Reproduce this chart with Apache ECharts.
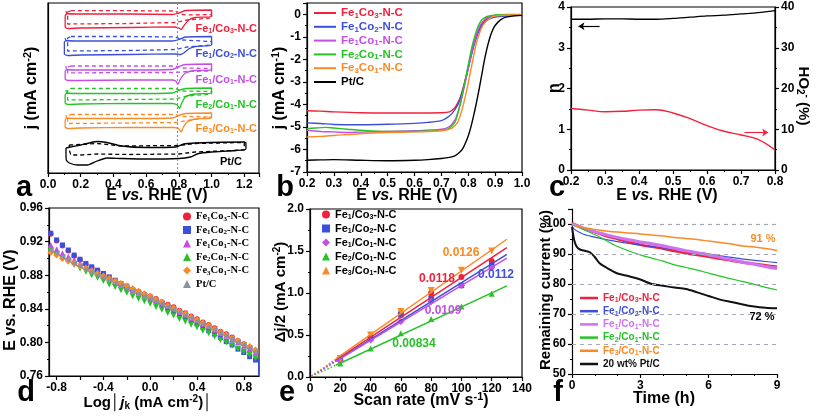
<!DOCTYPE html>
<html><head><meta charset="utf-8">
<script src="https://cdn.jsdelivr.net/npm/echarts@6/dist/echarts.min.js"></script>
<style>html,body{margin:0;padding:0;background:#fff}#c{width:817px;height:416px}</style>
</head><body><div id="c"></div>
<script>
// ---------------- DATA ----------------
// Panel a: CV loops (E in V, offset current in a.u.)
const aNames = ['Fe1/Co3-N-C','Fe1/Co2-N-C','Fe1/Co1-N-C','Fe2/Co1-N-C','Fe3/Co1-N-C','Pt/C'];
const aRefPotential = 0.79;
const aRedSolid = [[0.11,162],[0.115,159.5],[0.2,159],[0.5,159],[0.76,158.5],[0.8,160],[0.84,162.5],[1.0,163],[1.0,156.5],[0.9,155.5],[0.86,153],[0.83,147],[0.815,143.5],[0.8,145],[0.77,146],[0.5,145.5],[0.2,145],[0.12,144.5],[0.105,146],[0.105,157],[0.115,159.5]];
const aRedDash = [[0.14,162.3],[0.5,162.3],[0.78,162],[0.8,159],[0.85,158],[1.0,158.5],[1.0,155],[0.85,153],[0.78,150.5],[0.5,149.5],[0.12,149],[0.12,161],[0.14,162.3]];
const aBlueSolid = [[0.105,135],[0.11,132.5],[0.2,132],[0.5,132],[0.76,132],[0.8,133.5],[0.84,136],[1.0,136.5],[1.0,128],[0.9,126.5],[0.86,124],[0.83,120],[0.81,118.5],[0.78,119],[0.5,118.5],[0.2,118],[0.12,117.5],[0.1,119],[0.1,131],[0.11,132.5]];
const aBlueDash = [[0.14,136.5],[0.5,136.5],[0.78,136],[0.82,133],[1.0,131.5],[1.0,128],[0.85,126],[0.78,123.5],[0.5,122.5],[0.12,122],[0.12,135],[0.14,136.5]];
const aMagSolid = [[0.11,107],[0.115,103.5],[0.2,103],[0.5,103],[0.76,103.5],[0.8,106.5],[0.84,108.5],[1.0,109],[1.0,103],[0.9,102.5],[0.84,100],[0.81,94],[0.795,89],[0.78,92],[0.76,93],[0.5,93],[0.2,92.5],[0.12,92.5],[0.105,94],[0.105,102],[0.115,103.5]];
const aMagDash = [[0.14,107],[0.5,107],[0.78,107],[0.82,105],[1.0,104.5],[1.0,102],[0.85,101.5],[0.78,100.5],[0.5,100.5],[0.12,100],[0.12,106],[0.14,107]];
const aGreenSolid = [[0.11,83],[0.115,80],[0.2,79.5],[0.5,79.5],[0.76,80],[0.8,82.5],[0.84,84.5],[1.0,85],[1.0,80],[0.9,79],[0.84,76],[0.815,69],[0.805,64.5],[0.79,68],[0.76,69.5],[0.5,69.5],[0.2,69],[0.12,68.5],[0.105,70],[0.105,78],[0.115,80]];
const aGreenDash = [[0.14,84.5],[0.5,84.5],[0.78,84.5],[0.82,82],[1.0,81.5],[1.0,79],[0.85,77],[0.78,74],[0.5,73.5],[0.12,73],[0.12,83],[0.14,84.5]];
const aOrangeSolid = [[0.11,58],[0.115,55],[0.2,54.5],[0.5,54.5],[0.76,55],[0.8,57.5],[0.84,59.5],[1.0,60],[1.0,55],[0.9,54],[0.85,51],[0.825,45],[0.815,41],[0.8,44],[0.77,45.5],[0.5,45.5],[0.2,45],[0.12,44.5],[0.105,46],[0.105,53],[0.115,55]];
const aOrangeDash = [[0.14,58.5],[0.5,58.5],[0.78,58.5],[0.82,56.5],[1.0,56],[1.0,54],[0.85,52.5],[0.78,50.5],[0.5,50],[0.12,49.5],[0.12,57],[0.14,58.5]];
const aPtSolid = [[0.11,25],[0.2,28],[0.3,31.5],[0.36,30.5],[0.45,27],[0.6,25.5],[0.78,26],[0.83,29],[0.9,30],[1.2,31],[1.21,30],[1.21,24],[1.15,22.5],[1.0,21],[0.92,19.5],[0.87,16],[0.8,14.5],[0.6,14],[0.45,14.5],[0.36,15],[0.3,12],[0.24,8],[0.18,8],[0.13,10],[0.112,13],[0.11,21],[0.11,25]];
const aPtDash = [[0.13,28],[0.3,29.5],[0.45,27],[0.8,27.5],[0.9,29.5],[1.2,30.5],[1.2,23],[0.9,21],[0.8,19],[0.5,18.5],[0.3,19],[0.2,18],[0.14,18],[0.13,23],[0.13,28]];

// Panel b: LSV (E in V, j in mA cm-2)
const bNames = ['Fe1Co3-N-C','Fe1Co2-N-C','Fe1Co1-N-C','Fe2Co1-N-C','Fe3Co1-N-C','Pt/C'];
const bRed = [[0.2,-4.28],[0.25,-4.3],[0.3,-4.33],[0.4,-4.37],[0.5,-4.38],[0.6,-4.38],[0.7,-4.37],[0.73,-4.33],[0.75,-4.15],[0.76,-3.95],[0.77,-3.7],[0.78,-3.3],[0.79,-2.85],[0.8,-2.35],[0.81,-1.85],[0.82,-1.35],[0.83,-0.95],[0.84,-0.65],[0.85,-0.45],[0.86,-0.3],[0.88,-0.15],[0.9,-0.08],[0.93,-0.05],[1.0,-0.04]];
const bBlue = [[0.2,-4.82],[0.25,-4.85],[0.3,-4.89],[0.4,-4.9],[0.5,-4.88],[0.6,-4.84],[0.65,-4.8],[0.7,-4.72],[0.72,-4.6],[0.74,-4.4],[0.76,-4.05],[0.77,-3.75],[0.78,-3.35],[0.79,-2.9],[0.8,-2.4],[0.81,-1.9],[0.82,-1.45],[0.83,-1.05],[0.84,-0.75],[0.85,-0.5],[0.87,-0.25],[0.9,-0.12],[0.95,-0.07],[1.0,-0.05]];
const bMag = [[0.2,-5.15],[0.25,-5.2],[0.3,-5.22],[0.35,-5.25],[0.4,-5.23],[0.5,-5.2],[0.6,-5.17],[0.7,-5.1],[0.73,-4.98],[0.75,-4.7],[0.76,-4.4],[0.77,-4.0],[0.78,-3.5],[0.79,-2.95],[0.8,-2.4],[0.81,-1.85],[0.82,-1.35],[0.83,-0.95],[0.84,-0.6],[0.85,-0.38],[0.87,-0.15],[0.9,-0.05],[0.95,-0.02],[1.0,-0.02]];
const bGreen = [[0.2,-5.08],[0.23,-5.05],[0.27,-5.02],[0.3,-5.05],[0.35,-5.1],[0.4,-5.15],[0.5,-5.2],[0.6,-5.2],[0.7,-5.15],[0.73,-5.05],[0.75,-4.8],[0.76,-4.45],[0.77,-4.0],[0.78,-3.45],[0.79,-2.85],[0.8,-2.25],[0.81,-1.65],[0.82,-1.15],[0.83,-0.75],[0.84,-0.45],[0.85,-0.25],[0.87,-0.1],[0.9,-0.03],[0.95,-0.01],[1.0,-0.01]];
const bOrange = [[0.2,-5.44],[0.25,-5.42],[0.3,-5.38],[0.4,-5.3],[0.5,-5.25],[0.6,-5.22],[0.7,-5.17],[0.74,-5.05],[0.76,-4.8],[0.77,-4.5],[0.78,-4.1],[0.79,-3.6],[0.8,-3.05],[0.81,-2.45],[0.82,-1.85],[0.83,-1.3],[0.84,-0.9],[0.85,-0.6],[0.86,-0.4],[0.88,-0.18],[0.9,-0.08],[0.95,-0.03],[1.0,-0.02]];
const bPt = [[0.2,-6.48],[0.25,-6.46],[0.3,-6.45],[0.4,-6.48],[0.5,-6.5],[0.6,-6.48],[0.65,-6.45],[0.7,-6.4],[0.73,-6.35],[0.75,-6.28],[0.77,-6.1],[0.78,-5.95],[0.79,-5.7],[0.8,-5.4],[0.81,-5.0],[0.82,-4.5],[0.83,-3.95],[0.84,-3.35],[0.85,-2.7],[0.86,-2.05],[0.87,-1.5],[0.88,-1.05],[0.89,-0.72],[0.9,-0.5],[0.92,-0.25],[0.94,-0.13],[0.97,-0.07],[1.0,-0.05]];

// Panel c: electron transfer number and HO2- yield
const cN = [[0.2,3.70],[0.25,3.70],[0.3,3.71],[0.35,3.71],[0.4,3.70],[0.45,3.70],[0.5,3.72],[0.55,3.75],[0.6,3.78],[0.65,3.80],[0.7,3.83],[0.75,3.86],[0.8,3.91]];
const cHO2 = [[0.2,15.1],[0.25,14.7],[0.3,14.3],[0.35,14.4],[0.4,14.7],[0.45,14.8],[0.5,14.0],[0.55,12.6],[0.6,10.9],[0.65,9.5],[0.7,8.6],[0.75,7.5],[0.8,4.9]];
const cArrowN = [[0.284,3.53],[0.222,3.53]];
const cArrowHO2 = [[0.71,9.2],[0.78,9.2]];

// Panel d: Tafel plots (log|jk|, E)
const dNames = ['Fe1Co3-N-C','Fe1Co2-N-C','Fe1Co1-N-C','Fe2Co1-N-C','Fe3Co1-N-C','Pt/C'];
const dLogJ = [-0.85,-0.80,-0.75,-0.70,-0.65,-0.60,-0.55,-0.50,-0.45,-0.40,-0.35,-0.30,-0.25,-0.20,-0.15,-0.10,-0.05,0.00,0.05,0.10,0.15,0.20,0.25,0.30,0.35,0.40,0.45,0.50,0.55,0.60,0.65,0.70,0.75,0.80,0.85,0.90];
const dRed = [0.929,0.921,0.915,0.909,0.903,0.898,0.893,0.889,0.885,0.881,0.877,0.873,0.869,0.866,0.863,0.860,0.857,0.855,0.852,0.848,0.845,0.842,0.838,0.835,0.831,0.828,0.824,0.821,0.817,0.813,0.810,0.806,0.802,0.798,0.794,0.790];
const dBlue = [0.930,0.922,0.916,0.910,0.904,0.899,0.894,0.890,0.886,0.882,0.878,0.874,0.870,0.867,0.863,0.860,0.857,0.853,0.849,0.845,0.841,0.837,0.833,0.830,0.826,0.822,0.818,0.814,0.810,0.806,0.801,0.797,0.792,0.788,0.783,0.779];
const dMag = [0.916,0.911,0.906,0.902,0.898,0.894,0.890,0.887,0.883,0.879,0.876,0.872,0.869,0.866,0.862,0.859,0.856,0.853,0.850,0.846,0.843,0.840,0.836,0.833,0.829,0.826,0.822,0.819,0.815,0.811,0.808,0.804,0.800,0.796,0.792,0.788];
const dGreen = [0.909,0.904,0.900,0.896,0.892,0.888,0.884,0.880,0.877,0.873,0.869,0.866,0.862,0.859,0.855,0.852,0.849,0.846,0.842,0.839,0.835,0.832,0.828,0.825,0.821,0.818,0.814,0.811,0.807,0.803,0.800,0.796,0.792,0.789,0.785,0.781];
const dOrange = [0.907,0.904,0.900,0.897,0.894,0.891,0.888,0.885,0.882,0.879,0.876,0.873,0.870,0.867,0.864,0.861,0.858,0.855,0.851,0.848,0.844,0.841,0.837,0.834,0.830,0.827,0.823,0.820,0.816,0.812,0.809,0.805,0.802,0.798,0.795,0.791];
const dPt = [0.910,0.906,0.902,0.898,0.894,0.891,0.887,0.884,0.880,0.877,0.874,0.870,0.867,0.864,0.861,0.858,0.855,0.852,0.849,0.846,0.842,0.839,0.836,0.832,0.829,0.825,0.822,0.818,0.815,0.811,0.808,0.804,0.800,0.797,0.793,0.789];
const dBlueTail = [[0.928,0.779],[0.928,0.76]];
const dXTicks = [-0.8,-0.6,-0.4,-0.2,0,0.2,0.4,0.6,0.8];
const dXLabels = [-0.8,-0.4,0,0.4,0.8];

// Panel e: double-layer capacitance
const eNames = ['Fe1/Co3-N-C','Fe1/Co2-N-C','Fe1/Co1-N-C','Fe2/Co1-N-C','Fe3/Co1-N-C'];
const eScanRates = [20,40,60,80,100,120];
const eRed = [0.20,0.47,0.76,1.00,1.19,1.38];
const eBlue = [0.21,0.46,0.74,0.94,1.09,1.33];
const eMag = [0.19,0.44,0.66,0.90,1.09,1.30];
const eGreen = [0.16,0.34,0.52,0.69,0.84,0.99];
const eOrange = [0.22,0.50,0.78,1.03,1.27,1.50];
const eFitRed = [[1,0.01],[17,0.20],[130,1.54]];
const eFitBlue = [[1,0.01],[17,0.19],[130,1.46]];
const eFitMag = [[1,0.01],[17,0.185],[130,1.415]];
const eFitGreen = [[1,0.01],[17,0.14],[130,1.085]];
const eFitOrange = [[1,0.01],[17,0.215],[130,1.64]];
const eSlopes = ['0.0118','0.0112','0.0109','0.00834','0.0126'];

// Panel f: chronoamperometric stability
const fNames = ['Fe1/Co3-N-C','Fe1/Co2-N-C','Fe1/Co1-N-C','Fe2/Co1-N-C','Fe3/Co1-N-C','20 wt% Pt/C'];
const fRed = [[0,100.3],[0.2,99.6],[0.5,98.6],[1,97.3],[1.5,96.0],[2,95.0],[2.5,94.0],[3,93.1],[3.5,92.4],[4,91.8],[4.5,91.0],[5,90.3],[5.5,89.7],[6,89.1],[6.5,88.4],[7,87.8],[7.5,87.2],[8,86.7],[8.5,86.2],[9,85.7]];
const fBlue = [[0,99.2],[0.1,98.3],[0.3,97.3],[0.5,96.6],[1,95.6],[1.5,94.8],[2,94.1],[2.5,93.5],[3,93.0],[3.5,92.5],[4,92.0],[4.5,91.5],[5,91.0],[5.5,90.5],[6,90.0],[6.5,89.4],[7,88.9],[7.5,88.3],[8,87.9],[8.5,87.5],[9,87.1]];
const fMag = [[0,100.0],[0.3,99.2],[0.5,98.5],[1,97.4],[1.5,96.4],[2,95.5],[2.5,94.7],[3,94.0],[3.5,93.4],[4,92.7],[4.5,91.9],[5,91.1],[5.5,90.4],[6,89.7],[6.5,88.9],[7,88.1],[7.5,87.3],[8,86.6],[8.5,85.8],[9,85.2]];
const fGreen = [[0,99.8],[0.3,99.0],[0.5,98.2],[1,96.5],[1.5,94.5],[2,92.5],[2.5,91.0],[3,89.7],[3.5,88.6],[4,87.6],[4.5,86.4],[5,85.5],[5.5,84.6],[6,83.6],[6.5,82.6],[7,81.7],[7.5,80.8],[8,79.9],[8.5,78.9],[9,78.0]];
const fOrange = [[0,100.2],[0.1,99.6],[0.5,98.8],[1,98.2],[1.5,97.7],[2,97.3],[2.5,97.0],[3,96.7],[3.5,96.3],[4,96.0],[4.5,95.5],[5,95.2],[5.5,94.8],[6,94.3],[6.5,93.8],[7,93.3],[7.5,92.7],[8,92.3],[8.5,91.8],[9,91.2]];
const fPt = [[0,99.0],[0.05,96.5],[0.1,94.5],[0.2,92.5],[0.35,91.5],[0.6,91.0],[0.8,90.5],[1,89.0],[1.2,87.0],[1.5,85.5],[2,83.5],[2.5,82.6],[3,81.5],[3.5,80.0],[4,79.4],[4.5,78.8],[5,78.3],[5.5,77.2],[6,76.0],[6.5,74.8],[7,74.0],[7.5,73.2],[8,72.5],[8.5,72.1],[9,71.9]];
const fGuides = [60,70,80,90,100];
const fAnnot = ['91 %','72 %'];

// ---------------- STYLE / LAYOUT ----------------
const SANS = 'Liberation Sans', SERIF = 'Liberation Serif';
const PAL = ['#f0213c','#3c4fdc','#c44ee6','#27c227','#fa8a25','#000000'];
const GRAY = '#8b90a3';

function rich(size, family) {
  const b = {fontFamily: family, fontWeight: 'bold', fontSize: size};
  const sm = Math.round(size * 0.68);
  return {
    s: Object.assign({}, b, {fontSize: sm, padding: [Math.round(size*0.45),0,0,0]}),
    p: Object.assign({}, b, {fontSize: sm, padding: [0,0,Math.round(size*0.5),0]}),
    i: Object.assign({}, b, {fontStyle: 'italic'})
  };
}
function subify(t) { return t.replace(/(Fe|Co)(\d)/g, '$1{s|$2}'); }

function axis(gi, min, max, interval, o) {
  const base = {
    type: 'value', gridIndex: gi, min: min, max: max, interval: interval,
    axisLine: {show: true, onZero: false, lineStyle: {color: '#000', width: 1.2}},
    axisTick: {show: true, inside: false, length: 4, lineStyle: {color: '#000', width: 1.2}},
    minorTick: {show: true, splitNumber: 2, length: 2, lineStyle: {color: '#000', width: 1}},
    axisLabel: {show: true, fontFamily: SANS, fontWeight: 'bold', fontSize: 12, color: '#000', margin: 6, showMaxLabel: false},
    splitLine: {show: false}, minorSplitLine: {show: false}
  };
  if (o) for (const k in o) base[k] = (typeof o[k] === 'object' && !Array.isArray(o[k]) && base[k]) ? Object.assign({}, base[k], o[k]) : o[k];
  return base;
}
const f1 = v => v.toFixed(1), f2 = v => v.toFixed(2), f0 = v => String(Math.round(v));

const grids = [
  {left: 48, top: 3, width: 211, height: 170},
  {left: 307, top: 3, width: 215, height: 169},
  {left: 571, top: 7, width: 204, height: 163},
  {left: 49, top: 208, width: 210, height: 168},
  {left: 310, top: 209, width: 212, height: 168},
  {left: 572, top: 209, width: 205, height: 165}
].map((g, i) => Object.assign({show: i !== 5, borderColor: '#000', borderWidth: 1.2, backgroundColor: 'transparent', containLabel: false, outerBoundsMode: 'none'}, g));

const xAxes = [
  axis(0, 0, 1.29, 0.2, {axisLabel: {formatter: f1}}),
  axis(1, 0.2, 1.0, 0.1, {axisLabel: {formatter: f1, showMaxLabel: true}}),
  axis(2, 0.2, 0.8, 0.1, {axisLabel: {formatter: f1, showMaxLabel: true}}),
  axis(3, -0.865, 0.93, null, {minorTick: {show: false}, axisTick: {customValues: dXTicks}, axisLabel: {formatter: f1, customValues: dXLabels, showMaxLabel: true}}),
  axis(4, 0, 140, 20, {axisLabel: {formatter: f0, showMaxLabel: true}}),
  axis(5, 0, 9, 3, {minorTick: {show: true, splitNumber: 3}, axisLabel: {formatter: f0, showMaxLabel: true}})
];
const yAxes = [
  axis(0, 0, 170, 10, {axisTick: {show: false}, minorTick: {show: false}, axisLabel: {show: false}}),
  axis(1, -7, 0.5, 1, {axisLabel: {formatter: f0}}),
  axis(2, 0, 4, 1, {axisLabel: {formatter: f0, showMaxLabel: true}}),
  axis(2, 0, 40, 10, {position: 'right', axisLabel: {formatter: f0, showMaxLabel: true}}),
  axis(3, 0.76, 0.96, 0.04, {minorTick: {show: true, splitNumber: 2}, axisLabel: {formatter: f2, showMaxLabel: true}}),
  axis(4, 0, 2.0, 0.5, {axisLabel: {formatter: f1, showMaxLabel: true}}),
  axis(5, 50, 105, 10, {axisLabel: {formatter: f0}})
];

const series = [];
// Panel a
const aSolid = [aRedSolid, aBlueSolid, aMagSolid, aGreenSolid, aOrangeSolid, aPtSolid];
const aDash = [aRedDash, aBlueDash, aMagDash, aGreenDash, aOrangeDash, aPtDash];
aNames.forEach((n, i) => {
  const s = {name: 'a|' + n, type: 'line', xAxisIndex: 0, yAxisIndex: 0, data: aSolid[i], symbol: 'none', smooth: 0.2,
    lineStyle: {color: PAL[i], width: 1.3}, itemStyle: {color: PAL[i]}, silent: true};
  if (i === 0) s.markLine = {silent: true, symbol: ['none','none'], label: {show: false},
    lineStyle: {type: [2,2], color: '#7d8bb8', width: 1.1}, data: [{xAxis: aRefPotential}]};
  series.push(s);
  series.push({name: 'a|' + n + ' (dash)', type: 'line', xAxisIndex: 0, yAxisIndex: 0, data: aDash[i], symbol: 'none',
    lineStyle: {color: PAL[i], width: 1.3, type: [4,3]}, itemStyle: {color: PAL[i]}, silent: true});
});
// Panel b
[bRed, bBlue, bMag, bGreen, bOrange, bPt].forEach((d, i) => {
  series.push({name: 'b|' + bNames[i], type: 'line', xAxisIndex: 1, yAxisIndex: 1, data: d, symbol: 'none', smooth: 0.3,
    lineStyle: {color: PAL[i], width: 1.4}, itemStyle: {color: PAL[i]}});
});
// Panel c
series.push({name: 'c|n', type: 'line', xAxisIndex: 2, yAxisIndex: 2, data: cN, symbol: 'none', smooth: 0.3,
  lineStyle: {color: '#000', width: 1.3}, itemStyle: {color: '#000'},
  markLine: {silent: true, symbol: ['none','arrow'], symbolSize: 6, label: {show: false}, lineStyle: {color: '#000', width: 1.2, type: 'solid'},
    data: [[{coord: cArrowN[0]}, {coord: cArrowN[1]}]]}});
series.push({name: 'c|HO2', type: 'line', xAxisIndex: 2, yAxisIndex: 3, data: cHO2, symbol: 'none', smooth: 0.4,
  lineStyle: {color: PAL[0], width: 1.4}, itemStyle: {color: PAL[0]},
  markLine: {silent: true, symbol: ['none','arrow'], symbolSize: 6, label: {show: false}, lineStyle: {color: PAL[0], width: 1.2, type: 'solid'},
    data: [[{coord: cArrowHO2[0]}, {coord: cArrowHO2[1]}]]}});
// Panel d
const dSym = [['circle',5.5,0],['rect',5,0],['triangle',6,0],['triangle',6,180],['diamond',7,0],['triangle',6,90]];
const dCol = [PAL[0], PAL[1], PAL[2], PAL[3], PAL[4], GRAY];
series.push({name: 'd|tail', type: 'line', xAxisIndex: 3, yAxisIndex: 4, data: dBlueTail, symbol: 'none',
  lineStyle: {color: PAL[1], width: 1.2}, silent: true});
[dRed, dBlue, dMag, dGreen, dOrange, dPt].forEach((d, i) => {
  series.push({name: 'd|' + dNames[i], type: 'scatter', xAxisIndex: 3, yAxisIndex: 4,
    data: dLogJ.map((x, k) => [x, d[k]]), symbol: dSym[i][0], symbolSize: dSym[i][1], symbolRotate: dSym[i][2],
    itemStyle: {color: dCol[i], opacity: 1}});
});
// Panel e
const eSym = [['circle',6,0],['rect',5.5,0],['diamond',7,0],['triangle',6,0],['triangle',7,180]];
const eCol = [PAL[0], PAL[1], PAL[2], PAL[3], PAL[4]];
[eFitRed, eFitBlue, eFitMag, eFitGreen, eFitOrange].forEach((f, i) => {
  series.push({name: 'e|fit dotted ' + i, type: 'line', xAxisIndex: 4, yAxisIndex: 5, data: f.slice(0, 2), symbol: 'none',
    lineStyle: {color: eCol[i], width: 1.5, type: [1.5,2]}, silent: true});
  series.push({name: 'e|fit ' + i, type: 'line', xAxisIndex: 4, yAxisIndex: 5, data: f.slice(1), symbol: 'none',
    lineStyle: {color: eCol[i], width: 1.5}, silent: true});
});
[eRed, eBlue, eMag, eGreen, eOrange].forEach((d, i) => {
  series.push({name: 'e|' + eNames[i], type: 'scatter', xAxisIndex: 4, yAxisIndex: 5,
    data: eScanRates.map((x, k) => [x, d[k]]), symbol: eSym[i][0], symbolSize: eSym[i][1], symbolRotate: eSym[i][2],
    itemStyle: {color: eCol[i], opacity: 1}});
});
// Panel f
const fW = [2.6, 1.2, 3.2, 1.2, 1.5, 2];
const fCol = [PAL[0], PAL[1], '#cf72ee', PAL[3], PAL[4], '#111'];
[fRed, fBlue, fMag, fGreen, fOrange, fPt].forEach((d, i) => {
  const s = {name: 'f|' + fNames[i], type: 'line', xAxisIndex: 5, yAxisIndex: 6, data: d, symbol: 'none', smooth: 0.3,
    lineStyle: {color: fCol[i], width: fW[i]}, itemStyle: {color: fCol[i]}};
  if (i === 0) s.markLine = {silent: true, symbol: ['none','none'], label: {show: false},
    lineStyle: {type: [4,4], color: '#a4a8b8', width: 1.2}, data: fGuides.map(v => ({yAxis: v}))};
  series.push(s);
});

const legends = [
  {left: 314, top: 7, itemWidth: 22, itemHeight: 2, itemGap: 1.3, icon: 'rect', names: bNames.map(n => 'b|' + n), colors: PAL, size: 11.5, fam: SANS},
  {left: 183, top: 211, itemWidth: 8, itemHeight: 8, itemGap: 2, icon: null, names: dNames.map(n => 'd|' + n), colors: null, size: 10.5, fam: SERIF},
  {left: 322, top: 209, itemWidth: 8, itemHeight: 8, itemGap: 2.5, icon: null, names: eNames.map(n => 'e|' + n), colors: null, size: 11, fam: SANS},
  {left: 580, top: 293, itemWidth: 18, itemHeight: 2.5, itemGap: 2.2, icon: 'rect', names: fNames.map(n => 'f|' + n), colors: fCol, size: 10, fam: SANS}
].map(L => {
  const lg = {
    orient: 'vertical', left: L.left, top: L.top, itemWidth: L.itemWidth, itemHeight: L.itemHeight, itemGap: L.itemGap,
    selectedMode: false, padding: 0, symbolRotate: 'inherit',
    data: L.names.map((n, i) => ({name: n, textStyle: {color: L.colors ? L.colors[i] : '#000'}})),
    formatter: n => subify(n.slice(2)),
    textStyle: {fontFamily: L.fam, fontWeight: 'bold', fontSize: L.size, color: '#000', rich: rich(L.size, L.fam)}
  };
  if (L.icon) lg.icon = L.icon;
  return lg;
});

function txt(x, y, text, o) {
  o = o || {};
  const size = o.size || 15, fam = o.fam || SANS;
  return {type: 'text', x: x, y: y, rotation: o.rot || 0, silent: true, z: 100,
    style: {text: text, fill: o.color || '#000', fontFamily: fam, fontWeight: 'bold', fontSize: size,
      align: o.align || 'center', verticalAlign: 'middle', rich: rich(size, fam)}};
}
const R90 = Math.PI / 2;
const aLabelY = [29, 54, 80, 105, 129, 162];
const graphics = [
  txt(24, 188, 'a', {size: 29}), txt(285, 188, 'b', {size: 29}), txt(557, 188, 'c', {size: 29}),
  txt(26, 393, 'd', {size: 29}), txt(287, 393, 'e', {size: 29}), txt(558, 393, 'f', {size: 29}),
  txt(157, 196, 'E {i|vs.} RHE (V)', {size: 16}),
  txt(407, 196, 'E {i|vs.} RHE (V)', {size: 16}),
  txt(667, 196, 'E {i|vs.} RHE (V)', {size: 16}),
  txt(32, 88, 'j (mA cm{p|-2})', {size: 16, rot: R90}),
  txt(280, 88, 'j (mA cm{p|-1})', {size: 16, rot: R90}),
  txt(555, 88, 'n', {size: 16, rot: R90}),
  txt(803, 96, 'HO{s|2}{p|-} (%)', {size: 15, rot: -R90}),
  txt(11, 300, 'E vs. RHE (V)', {size: 16, rot: R90}),
  txt(148, 403, 'Log│{i|j}{s|k} (mA cm{p|-2})│', {size: 15}),
  txt(281, 292, 'Δj/2 (mA cm{p|-2})', {size: 15, rot: R90}),
  txt(421, 401, 'Scan rate (mV s{p|-1})', {size: 16}),
  txt(546, 290, 'Remaining current (%)', {size: 15, rot: R90}),
  txt(664, 399, 'Time (h)', {size: 16}),
  txt(437, 279, eSlopes[0], {size: 12, color: PAL[0]}),
  txt(496, 275, eSlopes[1], {size: 12, color: PAL[1]}),
  txt(443, 311, eSlopes[2], {size: 12, color: PAL[2]}),
  txt(414, 344, eSlopes[3], {size: 12, color: PAL[3]}),
  txt(461, 253, eSlopes[4], {size: 12, color: PAL[4]}),
  txt(763, 239, fAnnot[0], {size: 11, color: PAL[4]}),
  txt(762, 317, fAnnot[1], {size: 11, color: '#000'})
];
aNames.forEach((n, i) => graphics.push(txt(i === 5 ? 242 : 257, aLabelY[i], subify(n), {size: 11, color: PAL[i], align: 'right'})));

const chart = echarts.init(document.getElementById('c'), null, {renderer: 'canvas'});
chart.setOption({
  animation: false, backgroundColor: '#fff',
  grid: grids, xAxis: xAxes, yAxis: yAxes, series: series, legend: legends, graphic: graphics
});
</script></body></html>
